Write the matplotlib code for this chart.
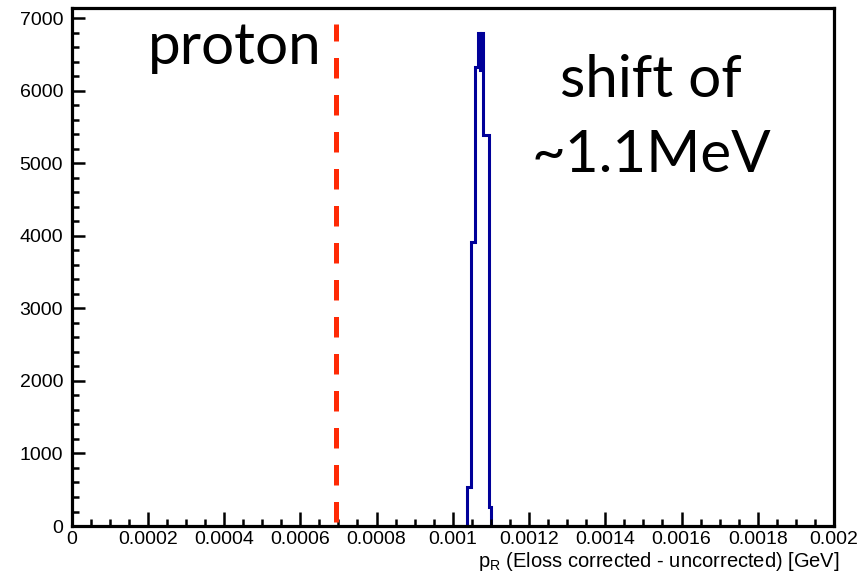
import matplotlib
matplotlib.use("Agg")
import matplotlib.pyplot as plt
from matplotlib.ticker import MultipleLocator, FixedLocator, FixedFormatter

# histogram
bin_edges = [0.0010366, 0.0010479, 0.0010591, 0.0010662, 0.0010707,
             0.0010749, 0.0010793, 0.0010938, 0.0011003]
counts = [540, 3920, 6330, 6800, 6290, 6800, 5390, 260]

proton_x = 0.000694
proton_y = [60, 6920]

x_ticks = [0, 0.0002, 0.0004, 0.0006, 0.0008, 0.001,
           0.0012, 0.0014, 0.0016, 0.0018, 0.002]
x_labels = ["0", "0.0002", "0.0004", "0.0006", "0.0008", "0.001",
            "0.0012", "0.0014", "0.0016", "0.0018", "0.002"]
y_ticks = [0, 1000, 2000, 3000, 4000, 5000, 6000, 7000]

plt.rcParams['font.family'] = ['Liberation Sans', 'DejaVu Sans']
plt.rcParams['mathtext.fontset'] = 'custom'
plt.rcParams['mathtext.rm'] = 'Liberation Sans'

fig = plt.figure(figsize=(8.65, 5.82), dpi=100)
ax = fig.add_axes([0.0827, 0.0962, 0.8815, 0.8901])

ax.stairs(counts, bin_edges, color='#000099', lw=2.2)

ax.plot([proton_x, proton_x], proton_y, color='#ff2a05', lw=3.6,
        linestyle=(0, (4.1, 3.3)), solid_capstyle='butt')

ax.set_xlim(0, 0.002)
ax.set_ylim(0, 7140)

ax.xaxis.set_major_locator(FixedLocator(x_ticks))
ax.xaxis.set_major_formatter(FixedFormatter(x_labels))
ax.xaxis.set_minor_locator(MultipleLocator(0.00005))
ax.yaxis.set_major_locator(FixedLocator(y_ticks))
ax.yaxis.set_minor_locator(MultipleLocator(200))

ax.tick_params(which='both', direction='in', width=1.8, labelsize=14,
               top=False, right=False)
ax.tick_params(axis='x', which='major', length=10, pad=3.5)
ax.tick_params(axis='x', which='minor', length=5)
ax.tick_params(axis='y', which='major', length=9, pad=6)
ax.tick_params(axis='y', which='minor', length=5)

for s in ax.spines.values():
    s.set_linewidth(2.3)

fig.text(840 / 865, 1 - 567 / 582,
         r'p$_\mathregular{R}$ (Eloss corrected - uncorrected) [GeV]',
         ha='right', va='baseline', fontsize=14.5)

big = dict(family=['Lato', 'DejaVu Sans'], fontsize=42, color='black',
           va='baseline')
fig.text(148 / 865, 1 - 64 / 582, 'proton', ha='left', **big)
fig.text(651 / 865, 1 - 97 / 582, 'shift of', ha='center', **big)
fig.text(651 / 865, 1 - 172 / 582, '~1.1MeV', ha='center', **big)

fig.savefig('out.png', dpi=100)
